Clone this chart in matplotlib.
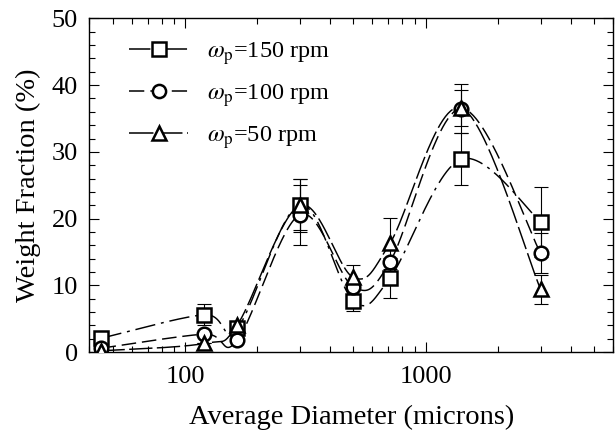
import numpy as np
import matplotlib.pyplot as plt

plt.rcParams["font.family"] = ["Liberation Serif", "DejaVu Serif"]
plt.rcParams["mathtext.fontset"] = "stix"

# sieve fractions (microns) and weight fractions (%) per impeller speed
diameters = [45, 120, 165, 300, 500, 710, 1400, 3000]
wf_150 = [2.1, 5.6, 3.6, 22.1, 7.7, 11.1, 28.9, 19.5]
wf_100 = [0.6, 2.7, 1.8, 20.6, 9.8, 13.5, 36.5, 14.8]
wf_50 = [0.2, 1.3, 4.1, 22.0, 11.2, 16.3, 36.6, 9.4]
err_150 = [0, 1.6, 0, 3.8, 1.6, 3.0, 3.9, 5.3]
err_100 = [0, 0, 0, 4.5, 0, 0, 3.7, 3.0]
err_50 = [0, 0, 0, 4.0, 1.8, 3.8, 2.7, 2.2]
labels = [r"$\omega_\mathrm{p}$=150 rpm", r"$\omega_\mathrm{p}$=100 rpm", r"$\omega_\mathrm{p}$=50 rpm"]

# rough screen scaling (px per decade, px per % point) so the
# smoothing curve behaves like one drawn on the page
PX_DECADE = 240.0
PX_UNIT = 6.68


def catmull_rom(x, y, n_seg=60):
    P = np.column_stack([np.log10(x) * PX_DECADE, np.asarray(y, float) * PX_UNIT])
    ext = np.vstack([P[0], P, P[-1]])
    T = (ext[2:] - ext[:-2]) / 2.0
    out = []
    t = np.linspace(0, 1, n_seg)[:, None]
    h00 = 2 * t**3 - 3 * t**2 + 1
    h10 = t**3 - 2 * t**2 + t
    h01 = -2 * t**3 + 3 * t**2
    h11 = t**3 - t**2
    for i in range(len(P) - 1):
        seg = h00 * P[i] + h10 * T[i] + h01 * P[i + 1] + h11 * T[i + 1]
        out.append(seg if i == 0 else seg[1:])
    out = np.vstack(out)
    return 10 ** (out[:, 0] / PX_DECADE), out[:, 1] / PX_UNIT


fig = plt.figure(figsize=(6.15, 4.38), dpi=100)
ax = fig.add_axes([0.145, 0.196, 0.852, 0.762])

series = [
    (wf_150, err_150, "s", (14, 4, 2, 4)),
    (wf_100, err_100, "o", (10, 4)),
    (wf_50, err_50, "^", (16, 3)),
]

for (vals, errs, mk, dash), lab in zip(series, labels):
    cx, cy = catmull_rom(diameters, vals)
    ax.plot(cx, cy, color="black", lw=1.05, dashes=dash, zorder=2)
    ax.errorbar(diameters, vals, yerr=errs, fmt="none", ecolor="black",
                elinewidth=0.8, capsize=5, capthick=0.8, zorder=3)
    ax.plot(diameters, vals, linestyle="none", marker=mk, ms=9.8 if mk != "^" else 10.2,
            mfc="white", mec="black", mew=1.8, zorder=4)
    # legend proxy
    ax.plot([], [], color="black", lw=1.1, dashes=dash, marker=mk, ms=9.5,
            mfc="white", mec="black", mew=1.8, label=lab)

ax.set_xscale("log")
ax.set_xlim(40, 6000)
ax.set_ylim(0, 50)
ax.set_yticks(np.arange(0, 51, 10))
ax.set_yticks(np.arange(0, 51, 2), minor=True)
ax.set_xticks([100, 1000])
ax.set_xticklabels(["100", "1000"])

ax.tick_params(which="both", direction="in", top=True, right=True, labelsize=19, width=0.8)
ax.tick_params(axis="y", which="major", length=7, pad=8)
ax.tick_params(axis="x", which="major", length=7, pad=10)
ax.tick_params(which="minor", length=4)
for s in ax.spines.values():
    s.set_linewidth(1.0)

ax.set_xlabel("Average Diameter (microns)", fontsize=20.5, labelpad=12)
ax.set_ylabel("Weight Fraction (%)", fontsize=20.5, labelpad=8)

ax.legend(loc="upper left", bbox_to_anchor=(0.035, 1.0), frameon=False,
          fontsize=17.5, handlelength=2.4, labelspacing=0.62, handletextpad=0.8)

fig.savefig("out.png", dpi=100)
